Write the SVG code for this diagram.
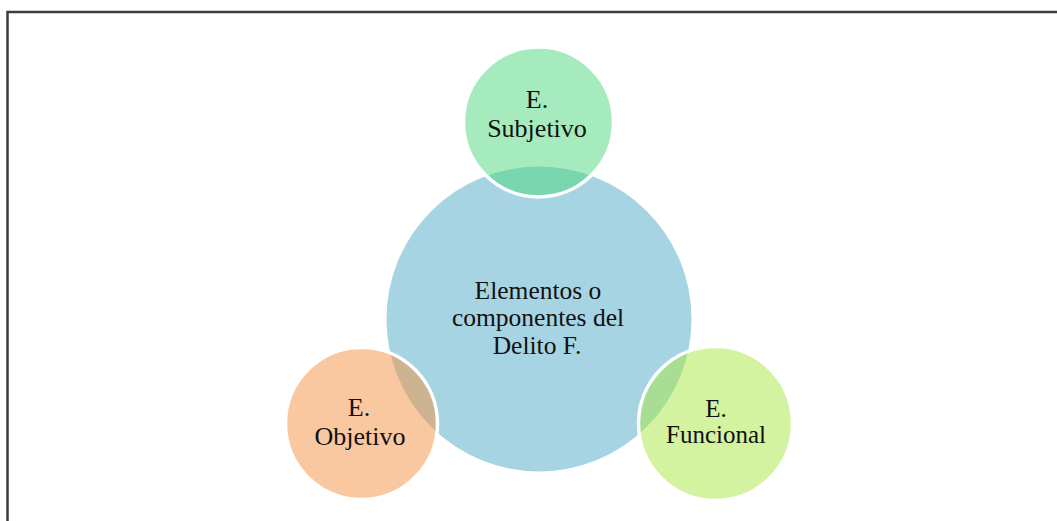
<svg xmlns="http://www.w3.org/2000/svg" width="1057" height="521" viewBox="0 0 1057 521">
<style>
.lbl{font-family:"Liberation Serif","Times New Roman",serif;font-size:26px;fill:#111;text-anchor:middle}
.mn{font-size:25.5px}
.sm{font-size:25px}
.sat{stroke:#fff;stroke-width:3.5;fill-opacity:0.5}
</style>
<rect width="1057" height="521" fill="#fff"/>
<path d="M7.5,521 V12 H1057" fill="none" stroke="#3c3c3c" stroke-width="2.5"/>
<g id="center">
<circle cx="539" cy="319" r="154" fill="#a7d4e2" stroke="#fff" stroke-width="3"/>
<text class="lbl mn" x="538" y="299">Elementos o</text>
<text class="lbl mn" x="538" y="326">componentes del</text>
<text class="lbl mn" x="537" y="354">Delito F.</text>
</g>
<g id="subjetivo">
<circle class="sat" cx="538.5" cy="122" r="75" fill="#4dd77b"/>
<text class="lbl" x="537" y="108">E.</text>
<text class="lbl" x="537" y="137">Subjetivo</text>
</g>
<g id="objetivo">
<circle class="sat" cx="361.5" cy="423.5" r="76" fill="#f39141"/>
<text class="lbl" x="359" y="416">E.</text>
<text class="lbl" x="360" y="445">Objetivo</text>
</g>
<g id="funcional">
<circle class="sat" cx="715.5" cy="423.5" r="77" fill="#a9e743"/>
<text class="lbl sm" x="716" y="417">E.</text>
<text class="lbl sm" x="716" y="443">Funcional</text>
</g>
<g id="connectors"></g>
</svg>
